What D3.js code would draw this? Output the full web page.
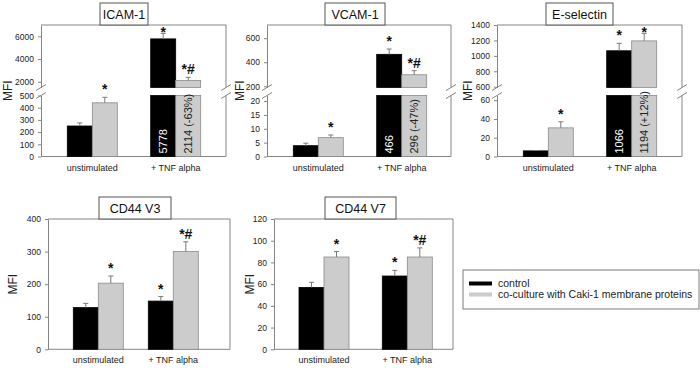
<!DOCTYPE html>
<html>
<head>
<meta charset="utf-8">
<script src="https://cdn.jsdelivr.net/npm/d3@7"></script>
<style>
  body { margin: 0; background: #fff; }
  svg { display: block; font-family: "Liberation Sans", Arial, sans-serif; }
</style>
</head>
<body>
<script>
// categories and series
const categories = ["unstimulated", "+ TNF alpha"]
const seriesNames = ["control", "co-culture with Caki-1 membrane proteins"]
const seriesColors = ["#000000", "#cccccc"]

// values: [unstimulated, + TNF alpha]
const icamControl = [250, 5778]
const icamControlErr = [25, 490]
const icamCoculture = [440, 2114]
const icamCocultureErr = [45, 280]
const icamMarks = [["", "*"], ["*", "*#"]]
const icamInBar = ["5778", "2114 (-63%)"]

const vcamControl = [3.9, 466]
const vcamControlErr = [0.9, 44]
const vcamCoculture = [6.8, 296]
const vcamCocultureErr = [0.95, 34]
const vcamMarks = [["", "*"], ["*", "*#"]]
const vcamInBar = ["466", "296 (-47%)"]

const eselControl = [6, 1066]
const eselControlErr = [0.4, 97]
const eselCoculture = [30.5, 1194]
const eselCocultureErr = [6.5, 98]
const eselMarks = [["", "*"], ["*", "*"]]
const eselInBar = ["1066", "1194 (+12%)"]

const v3Control = [128, 148]
const v3ControlErr = [13, 14]
const v3Coculture = [203, 300]
const v3CocultureErr = [22, 30]
const v3Marks = [["", "*"], ["*", "*#"]]

const v7Control = [57, 67.5]
const v7ControlErr = [4.7, 5.2]
const v7Coculture = [85, 85]
const v7CocultureErr = [5, 8.4]
const v7Marks = [["", "*"], ["*", "*#"]]

// axis ticks and domains
const icamLowerTicks = [0, 100, 200, 300, 400, 500]
const icamUpperTicks = [2000, 4000, 6000]
const vcamLowerTicks = [0, 5, 10, 15, 20]
const vcamUpperTicks = [200, 400, 600]
const eselLowerTicks = [0, 20, 40, 60]
const eselUpperTicks = [600, 800, 1000, 1200, 1400]
const v3Ticks = [0, 100, 200, 300, 400]
const v7Ticks = [0, 20, 40, 60, 80, 100, 120]

const panels = [
  {title: "ICAM-1", ctrl: icamControl, ctrlErr: icamControlErr, co: icamCoculture, coErr: icamCocultureErr,
   marks: icamMarks, inBar: icamInBar, lower: [0, 500], upper: [1500, 7000], lowerTicks: icamLowerTicks, upperTicks: icamUpperTicks,
   x0: 41, x1: 226, y0: 25, y1: 156.5, c: [51.3, 134.7], box: [100, 148], mfiX: 8},
  {title: "VCAM-1", ctrl: vcamControl, ctrlErr: vcamControlErr, co: vcamCoculture, coErr: vcamCocultureErr,
   marks: vcamMarks, inBar: vcamInBar, lower: [0, 22], upper: [190, 710], lowerTicks: vcamLowerTicks, upperTicks: vcamUpperTicks,
   x0: 267, x1: 451, y0: 25, y1: 156.5, c: [51.3, 134.7], box: [325, 385], mfiX: 240},
  {title: "E-selectin", ctrl: eselControl, ctrlErr: eselControlErr, co: eselCoculture, coErr: eselCocultureErr,
   marks: eselMarks, inBar: eselInBar, lower: [0, 65], upper: [590, 1400], lowerTicks: eselLowerTicks, upperTicks: eselUpperTicks,
   x0: 497, x1: 682, y0: 25, y1: 156.5, c: [51.3, 134.7], box: [546, 613], mfiX: 468},
  {title: "CD44 V3", ctrl: v3Control, ctrlErr: v3ControlErr, co: v3Coculture, coErr: v3CocultureErr,
   marks: v3Marks, lower: [0, 400], lowerTicks: v3Ticks,
   x0: 48, x1: 230, y0: 219, y1: 349.3, c: [50.3, 125.3], box: [99, 171], mfiX: 13},
  {title: "CD44 V7", ctrl: v7Control, ctrlErr: v7ControlErr, co: v7Coculture, coErr: v7CocultureErr,
   marks: v7Marks, lower: [0, 120], lowerTicks: v7Ticks,
   x0: 274, x1: 453, y0: 219, y1: 349.3, c: [50, 133.3], box: [325, 396], mfiX: 250}
]

const width = 700
const height = 368
const barW = 25
const gapTop = 87.5     // bottom of the upper part of a broken axis
const gapBottom = 95.5  // top of the lower part
const axisColor = "#858585"

const svg = d3.select("body").append("svg")
    .attr("width", width)
    .attr("height", height)

panels.forEach(p => {
    const g = svg.append("g")
    const broken = !!p.upper

    const x = d3.scalePoint()
        .domain(categories)
        .range([p.x0 + p.c[0], p.x0 + p.c[1]])

    const yLow = d3.scaleLinear()
        .domain(p.lower)
        .range([p.y1, broken ? gapBottom : p.y0])
    const yUp = broken ? d3.scaleLinear().domain(p.upper).range([gapTop, p.y0]) : null

    // frame: top and right, plus the bottom axis
    g.append("line").attr("x1", p.x0).attr("x2", p.x1).attr("y1", p.y0).attr("y2", p.y0)
        .attr("stroke", axisColor)
    g.append("line").attr("x1", p.x0).attr("x2", p.x1).attr("y1", p.y1).attr("y2", p.y1)
        .attr("stroke", axisColor)
    const rightSegs = broken ? [[p.y0, gapTop], [gapBottom, p.y1]] : [[p.y0, p.y1]]
    rightSegs.forEach(s => {
        g.append("line").attr("x1", p.x1).attr("x2", p.x1).attr("y1", s[0]).attr("y2", s[1])
            .attr("stroke", axisColor)
    })

    // y axes
    const drawAxis = (scale, ticks) => {
        const ax = g.append("g")
            .attr("transform", `translate(${p.x0},0)`)
            .call(d3.axisLeft(scale).tickValues(ticks).tickFormat(d3.format("d"))
                .tickSize(3).tickSizeOuter(0).tickPadding(4))
        ax.select(".domain").attr("stroke", axisColor)
        ax.selectAll(".tick line").attr("stroke", axisColor)
        ax.selectAll(".tick text").attr("fill", "#222").style("font-size", "8.5px")
            .style("font-family", "Liberation Sans, Arial, sans-serif")
    }
    drawAxis(yLow, p.lowerTicks)
    if (broken) drawAxis(yUp, p.upperTicks)

    // break marks
    if (broken) {
        [p.x0, p.x1].forEach(bx => {
            [gapTop, gapBottom].forEach(by => {
                g.append("line")
                    .attr("x1", bx - 5).attr("y1", by + 3)
                    .attr("x2", bx + 5).attr("y2", by - 3)
                    .attr("stroke", axisColor)
            })
        })
    }

    // bars
    const series = [
        {vals: p.ctrl, errs: p.ctrlErr, color: seriesColors[0], stroke: "#000", off: -barW, marks: p.marks[0], text: "#fff"},
        {vals: p.co, errs: p.coErr, color: seriesColors[1], stroke: "#8a8a8a", off: 0, marks: p.marks[1], text: "#222"}
    ]
    series.forEach((s, si) => {
        categories.forEach((cat, ci) => {
            const v = s.vals[ci]
            const bx = x(cat) + s.off
            const inUpper = broken && v > p.lower[1]
            const lowTop = inUpper ? yLow(p.lower[1]) : yLow(v)
            g.append("rect")
                .attr("x", bx).attr("y", lowTop)
                .attr("width", barW).attr("height", p.y1 - lowTop)
                .attr("fill", s.color).attr("stroke", s.stroke).attr("stroke-width", 0.8)
            const ys = inUpper ? yUp : yLow
            if (inUpper) {
                g.append("rect")
                    .attr("x", bx).attr("y", yUp(v))
                    .attr("width", barW).attr("height", gapTop - yUp(v))
                    .attr("fill", s.color).attr("stroke", s.stroke).attr("stroke-width", 0.8)
            }
            // error bar, upper half only
            const cx = bx + barW / 2
            const eTop = ys(v + s.errs[ci])
            g.append("line").attr("x1", cx).attr("x2", cx).attr("y1", ys(v)).attr("y2", eTop)
                .attr("stroke", "#7a7a7a").attr("stroke-width", 1)
            g.append("line").attr("x1", cx - 2.5).attr("x2", cx + 2.5).attr("y1", eTop).attr("y2", eTop)
                .attr("stroke", "#7a7a7a").attr("stroke-width", 1)
            // significance marks
            if (s.marks[ci]) {
                g.append("text")
                    .attr("x", cx).attr("y", Math.max(eTop - 3, p.y0 + 12))
                    .attr("text-anchor", "middle")
                    .style("font-size", "14px")
                    .style("font-weight", "bold")
                    .attr("fill", "#111")
                    .text(s.marks[ci])
            }
            // value written inside the broken bars
            if (inUpper && p.inBar) {
                g.append("text")
                    .attr("transform", `translate(${cx},${p.y1 - 3}) rotate(-90)`)
                    .attr("dy", "0.36em")
                    .style("font-size", "11px")
                    .attr("fill", s.text)
                    .text(p.inBar[si])
            }
        })
    })

    // category labels
    categories.forEach(cat => {
        g.append("text")
            .attr("x", x(cat)).attr("y", p.y1 + 14)
            .attr("text-anchor", "middle")
            .style("font-size", "9px")
            .attr("fill", "#222")
            .text(cat)
    })

    // MFI label
    g.append("text")
        .attr("transform", `translate(${p.mfiX},${(p.y0 + p.y1) / 2}) rotate(-90)`)
        .attr("text-anchor", "middle")
        .attr("dy", "0.36em")
        .style("font-size", "12px")
        .attr("fill", "#222")
        .text("MFI")

    // title box
    g.append("rect")
        .attr("x", p.box[0]).attr("y", p.y0 - 22)
        .attr("width", p.box[1] - p.box[0]).attr("height", 22)
        .attr("fill", "#fff").attr("stroke", "#555")
    g.append("text")
        .attr("x", (p.box[0] + p.box[1]) / 2).attr("y", p.y0 - 11)
        .attr("text-anchor", "middle").attr("dy", "0.36em")
        .style("font-size", "12.5px")
        .attr("fill", "#111")
        .text(p.title)
})

// Legend
const legend = svg.append("g")
legend.append("rect")
    .attr("x", 463).attr("y", 270).attr("width", 236).attr("height", 39)
    .attr("fill", "#fff").attr("stroke", "#7a7a7a")
seriesNames.forEach((name, i) => {
    legend.append("rect")
        .attr("x", 469).attr("y", 281.5 + i * 11).attr("width", 23).attr("height", 4)
        .attr("fill", seriesColors[i])
    legend.append("text")
        .attr("x", 498).attr("y", 283.5 + i * 11)
        .attr("dy", "0.36em")
        .style("font-size", "10.5px")
        .attr("fill", "#222")
        .text(name)
})
</script>
</body>
</html>
